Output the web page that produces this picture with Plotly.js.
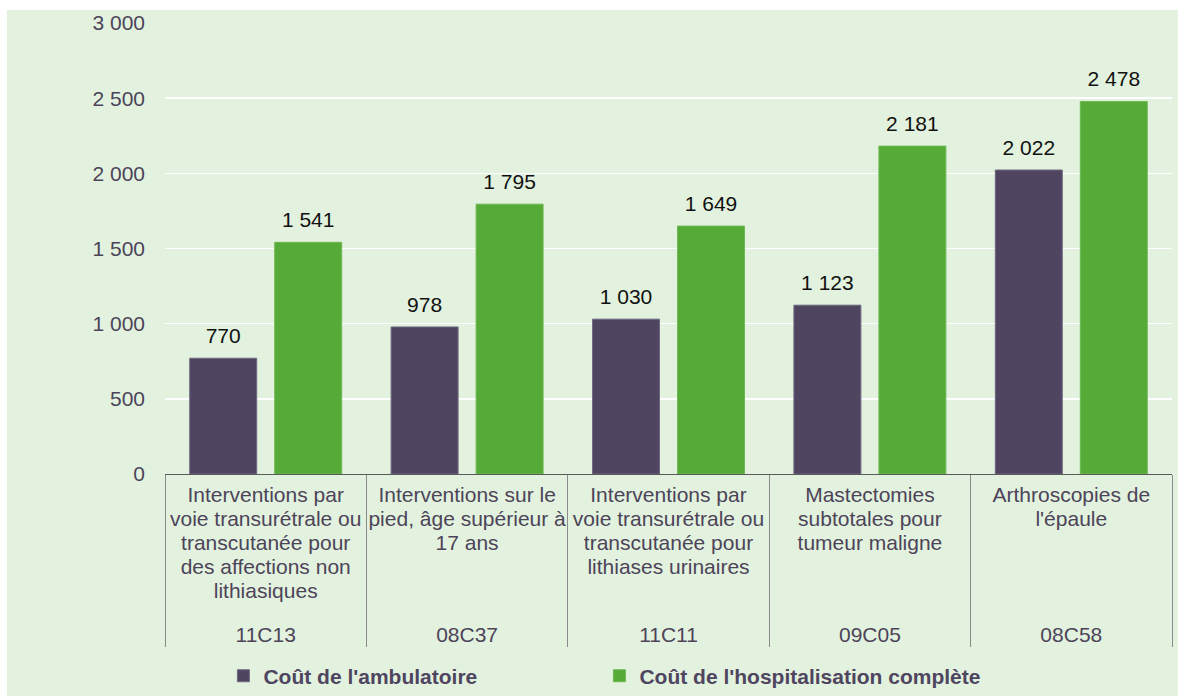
<!DOCTYPE html>
<html><head><meta charset="utf-8">
<script src="https://cdn.plot.ly/plotly-3.0.1.min.js"></script>
<style>
html,body{margin:0;padding:0;background:#ffffff;}
#chart{position:absolute;left:7px;top:10px;width:1171px;height:686px;}
</style></head><body><div id="chart"></div>
<script>
// ---- data ----
const codes = ["11C13", "08C37", "11C11", "09C05", "08C58"];
const names = [
  ["Interventions par", "voie transurétrale ou", "transcutanée pour", "des affections non", "lithiasiques"],
  ["Interventions sur le", "pied, âge supérieur à", "17 ans"],
  ["Interventions par", "voie transurétrale ou", "transcutanée pour", "lithiases urinaires"],
  ["Mastectomies", "subtotales pour", "tumeur maligne"],
  ["Arthroscopies de", "l'épaule"]
];
const ambulatoire = [770, 978, 1030, 1123, 2022];
const hospitalisation = [1541, 1795, 1649, 2181, 2478];
const seriesNames = ["Coût de l'ambulatoire", "Coût de l'hospitalisation complète"];
const yTickVals = [0, 500, 1000, 1500, 2000, 2500, 3000];

// ---- styling ----
const FONT = '"Liberation Sans", Arial, sans-serif';
const LABEL_COLOR = '#4D4459';
const big = s => '<span style="font-size:21px">' + s + '</span>';
const inner = names.map(lines => lines.map(big).join('<br>'));
const outer = codes.map(c => '<br>' + big(c));
const valueLabel = '<span style="font-size:21px">%{y:,}</span><br><span style="font-size:8px">&nbsp;</span>';

const traces = [
  {
    type: 'bar', name: seriesNames[0], legend: 'legend',
    x: [outer, inner], y: ambulatoire,
    marker: {color: '#4F4560', line: {color: '#6E6880', width: 1}},
    texttemplate: valueLabel, textposition: 'outside',
    textfont: {family: FONT, size: 8, color: '#111111'},
    cliponaxis: false, hoverinfo: 'y'
  },
  {
    type: 'bar', name: seriesNames[1], legend: 'legend2',
    x: [outer, inner], y: hospitalisation,
    marker: {color: '#56AA38', line: {color: '#6DB854', width: 1}},
    texttemplate: valueLabel, textposition: 'outside',
    textfont: {family: FONT, size: 8, color: '#111111'},
    cliponaxis: false, hoverinfo: 'y'
  }
];

const legendBase = {
  orientation: 'h', xref: 'container', yref: 'container',
  xanchor: 'left', y: 0.029, yanchor: 'middle',
  font: {family: FONT, size: 21, color: '#4F4560', weight: 'bold'},
  bgcolor: 'rgba(0,0,0,0)', itemclick: false
};

const layout = {
  width: 1171, height: 686,
  paper_bgcolor: '#E2F2DE', plot_bgcolor: '#E2F2DE',
  margin: {l: 158, r: 6, t: 13, b: 222, pad: 0},
  separators: ', ',
  font: {family: FONT, color: LABEL_COLOR},
  barmode: 'group', bargap: 0.156, bargroupgap: 0.212,
  showlegend: true,
  legend: Object.assign({}, legendBase, {x: 0.1848}),
  legend2: Object.assign({}, legendBase, {x: 0.5059}),
  xaxis: {
    type: 'multicategory', tickangle: 0, automargin: false,
    showgrid: false, zeroline: false,
    showline: true, linecolor: '#5A5A5A', linewidth: 1,
    ticks: '', showdividers: true, dividercolor: '#8A8A8A', dividerwidth: 1,
    ticklabelstandoff: 5,
    tickfont: {family: FONT, size: 18.5, color: LABEL_COLOR}
  },
  yaxis: {
    range: [0, 3000], tickvals: yTickVals, separatethousands: true, automargin: false,
    showgrid: true, gridcolor: '#FFFFFF', gridwidth: 1.5,
    zeroline: false, showline: false, ticks: '',
    ticklabelstandoff: 19,
    tickfont: {family: FONT, size: 21, color: LABEL_COLOR}
  }
};

Plotly.newPlot('chart', traces, layout, {displayModeBar: false, staticPlot: true});
</script></body></html>
